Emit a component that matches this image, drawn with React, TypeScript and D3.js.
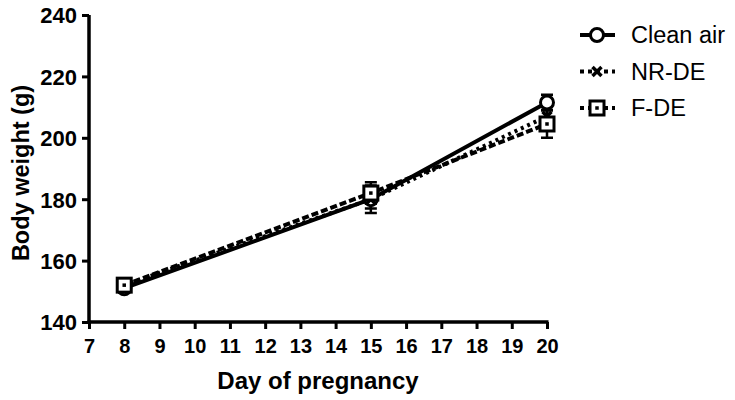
import React, { useRef, useEffect } from 'react';
import * as d3 from 'd3';

const days = [8, 15, 20];
const cleanAir = [151, 180, 211.5];
const cleanAirErr = [1.5, 4.5, 2.5];
const nrDe = [152, 180, 207];
const nrDeErr = [1.5, 3, 3];
const fDe = [152, 182, 204.5];
const fDeErr = [2, 3.5, 4.5];
const xTicks = [7, 8, 9, 10, 11, 12, 13, 14, 15, 16, 17, 18, 19, 20];
const yTicks = [140, 160, 180, 200, 220, 240];
const seriesNames = ['Clean air', 'NR-DE', 'F-DE'];

const W = 735;
const H = 400;
const FONT = '"Liberation Sans", Arial, sans-serif';

function App() {
  const svgRef = useRef<SVGSVGElement>(null);

  useEffect(() => {
    const svg = d3.select(svgRef.current);
    svg.selectAll('*').remove();

    const x = d3.scaleLinear().domain([7, 20]).range([89, 547]);
    const y = d3.scaleLinear().domain([140, 240]).range([322, 15]);

    // axes
    const xAxis = svg.append('g')
      .attr('transform', `translate(0,${y(140)})`)
      .call(d3.axisBottom(x).tickValues(xTicks).tickSize(7).tickPadding(10).tickFormat(d3.format('d')));
    const yAxis = svg.append('g')
      .attr('transform', `translate(${x(7)},0)`)
      .call(d3.axisLeft(y).tickValues(yTicks).tickSize(7).tickPadding(5).tickFormat(d3.format('d')));
    [xAxis, yAxis].forEach(a => {
      a.select('.domain').attr('stroke', '#000').attr('stroke-width', 3.5);
      a.selectAll('.tick line').attr('stroke', '#000').attr('stroke-width', 3);
      a.selectAll('.tick text')
        .attr('fill', '#000')
        .style('font-family', FONT)
        .style('font-weight', 'bold');
    });
    xAxis.selectAll('.tick text').style('font-size', '20px').attr('dy', '0.72em');
    yAxis.selectAll('.tick text').style('font-size', '22px').attr('dy', '0.36em');
    xAxis.select('.domain').attr('d', `M${x(7) - 1.5},0H${x(20) + 1.5}`);
    yAxis.select('.domain').attr('d', `M0,${y(140) + 1.5}V${y(240)}`);

    svg.append('text')
      .attr('x', 318).attr('y', 389)
      .attr('text-anchor', 'middle')
      .style('font-family', FONT).style('font-weight', 'bold').style('font-size', '24px')
      .text('Day of pregnancy');
    svg.append('text')
      .attr('transform', `translate(29,173) rotate(-90)`)
      .attr('text-anchor', 'middle')
      .style('font-family', FONT).style('font-weight', 'bold').style('font-size', '23.5px')
      .text('Body weight (g)');

    const series = [
      { name: seriesNames[0], vals: cleanAir, err: cleanAirErr, dash: null, marker: 'circle' },
      { name: seriesNames[1], vals: nrDe, err: nrDeErr, dash: '3,4', marker: 'x' },
      { name: seriesNames[2], vals: fDe, err: fDeErr, dash: '7,3', marker: 'square' },
    ];

    const drawMarker = (g: any, type: string, cx: number, cy: number) => {
      if (type === 'circle') {
        g.append('circle').attr('cx', cx).attr('cy', cy).attr('r', 6.5)
          .attr('fill', '#fff').attr('stroke', '#000').attr('stroke-width', 3);
      } else if (type === 'x') {
        const s = 4.5;
        g.append('path')
          .attr('d', `M${cx - s},${cy - s}L${cx + s},${cy + s}M${cx - s},${cy + s}L${cx + s},${cy - s}`)
          .attr('stroke', '#000').attr('stroke-width', 3.5);
      } else {
        g.append('rect').attr('x', cx - 7).attr('y', cy - 7).attr('width', 14).attr('height', 14)
          .attr('fill', '#fff').attr('stroke', '#000').attr('stroke-width', 3);
        g.append('rect').attr('x', cx - 1.75).attr('y', cy - 1.75).attr('width', 3.5).attr('height', 3.5)
          .attr('fill', '#000');
      }
    };

    const line = d3.line<number>().x((d, i) => x(days[i])).y(d => y(d));

    series.forEach(s => {
      const g = svg.append('g');
      g.append('path')
        .datum(s.vals)
        .attr('d', line)
        .attr('fill', 'none')
        .attr('stroke', '#000')
        .attr('stroke-width', 4)
        .attr('stroke-dasharray', s.dash);
      s.vals.forEach((v, i) => {
        const cx = x(days[i]);
        g.append('path')
          .attr('d', `M${cx},${y(v - s.err[i])}V${y(v + s.err[i])}M${cx - 6},${y(v - s.err[i])}H${cx + 6}M${cx - 6},${y(v + s.err[i])}H${cx + 6}`)
          .attr('stroke', '#000').attr('stroke-width', 2.5).attr('fill', 'none');
      });
    });
    series.forEach(s => {
      const g = svg.append('g');
      s.vals.forEach((v, i) => drawMarker(g, s.marker, x(days[i]), y(v)));
    });

    // legend
    series.forEach((s, i) => {
      const ly = 35 + i * 36.5;
      const g = svg.append('g');
      g.append('line').attr('x1', 580).attr('x2', 615).attr('y1', ly).attr('y2', ly)
        .attr('stroke', '#000').attr('stroke-width', 4).attr('stroke-dasharray', s.dash ? '4,4' : null);
      drawMarker(g, s.marker, 597, ly);
      g.append('text')
        .attr('x', 631).attr('y', ly).attr('dy', '0.36em')
        .style('font-family', FONT).style('font-size', '23.5px')
        .text(s.name);
    });
  }, []);

  return (
    <svg
      ref={svgRef}
      width={W}
      height={H}
      style={{ position: 'absolute', left: 0, top: 0, background: '#fff' }}
    />
  );
}

export default App;
